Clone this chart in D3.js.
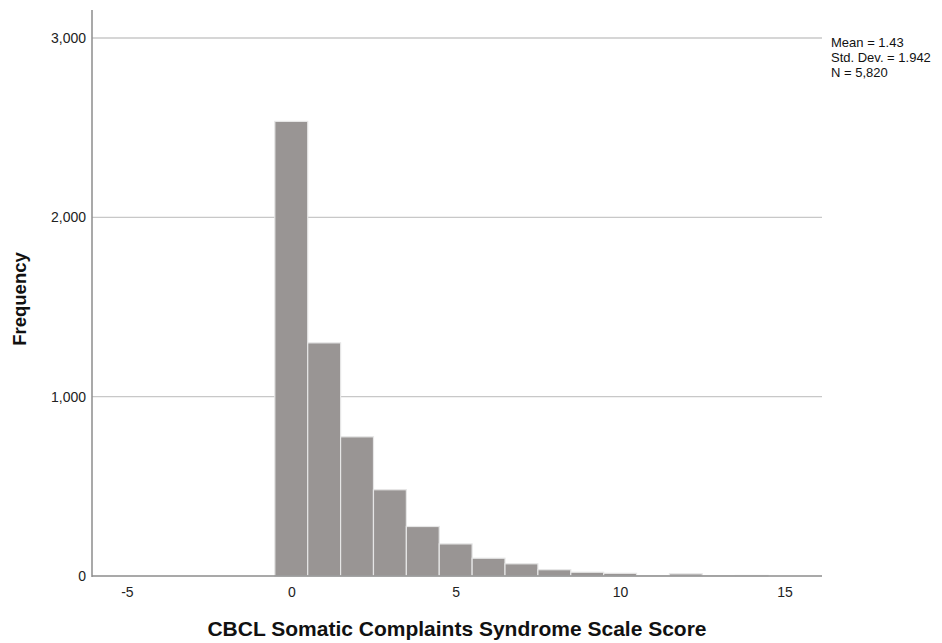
<!DOCTYPE html>
<html>
<head>
<meta charset="utf-8">
<script src="https://cdn.jsdelivr.net/npm/d3@7"></script>
<style>
  body { margin: 0; background: #fff; }
  svg text { font-family: "Liberation Sans", Arial, sans-serif; }
</style>
</head>
<body>
<svg id="chart" width="942" height="643"></svg>
<script>
// histogram bins (centre score) and counts
const binScores = [0, 1, 2, 3, 4, 5, 6, 7, 8, 9, 10, 11, 12, 13, 14];
const binCounts = [2535, 1300, 776, 481, 276, 179, 99, 68, 35, 21, 15, 2, 12, 1, 3];
const xTicks = [-5, 0, 5, 10, 15];
const yTicks = [0, 1000, 2000, 3000];
const statLines = ["Mean = 1.43", "Std. Dev. = 1.942", "N = 5,820"];

const svg = d3.select("#chart");
const plotL = 92, plotR = 822, plotT = 10, plotB = 576;

const x = d3.scaleLinear().domain([-6.06, 16.14]).range([plotL, plotR]);
const y = d3.scaleLinear().domain([0, 3000]).range([plotB, 38]);

// gridlines
svg.append("g")
  .selectAll("line")
  .data(yTicks.filter(d => d > 0))
  .join("line")
    .attr("x1", plotL).attr("x2", plotR)
    .attr("y1", d => y(d)).attr("y2", d => y(d))
    .attr("stroke", "#c8c8c8").attr("stroke-width", 1.3);

// bars
svg.append("g")
  .selectAll("rect")
  .data(binScores)
  .join("rect")
    .attr("x", (d) => x(d - 0.5))
    .attr("width", x(1) - x(0))
    .attr("y", (d, i) => y(binCounts[i]))
    .attr("height", (d, i) => plotB - y(binCounts[i]))
    .attr("fill", "#999594")
    .attr("stroke", "#e6e6e6")
    .attr("stroke-width", 1.2);

// axes (no tick marks, SPSS style)
const yAxis = d3.axisLeft(y).tickValues(yTicks).tickSize(0).tickPadding(6).tickFormat(d3.format(","));
const gy = svg.append("g").attr("transform", `translate(${plotL},0)`).call(yAxis);
gy.select(".domain").remove();
gy.selectAll("text").attr("font-size", 14).attr("fill", "#222");

const xAxis = d3.axisBottom(x).tickValues(xTicks).tickSize(0).tickPadding(11).tickFormat(d => String(d));
const gx = svg.append("g").attr("transform", `translate(0,${plotB})`).call(xAxis);
gx.select(".domain").remove();
gx.selectAll("text").attr("font-size", 14).attr("fill", "#222");

svg.append("line")
  .attr("x1", plotL).attr("x2", plotL).attr("y1", plotT).attr("y2", plotB + 1)
  .attr("stroke", "#8c8c8c").attr("stroke-width", 1.5);
svg.append("line")
  .attr("x1", plotL).attr("x2", plotR).attr("y1", plotB).attr("y2", plotB)
  .attr("stroke", "#8c8c8c").attr("stroke-width", 1.5);

// titles
svg.append("text")
  .attr("transform", `translate(26,${(plotT + plotB) / 2 + 6}) rotate(-90)`)
  .attr("text-anchor", "middle")
  .attr("font-size", 18.5).attr("font-weight", "bold").attr("fill", "#111")
  .text("Frequency");

svg.append("text")
  .attr("x", 457).attr("y", 636)
  .attr("text-anchor", "middle")
  .attr("font-size", 21).attr("font-weight", "bold").attr("fill", "#111")
  .text("CBCL Somatic Complaints Syndrome Scale Score");

// stats box
svg.append("g")
  .selectAll("text")
  .data(statLines)
  .join("text")
    .attr("x", 831).attr("y", (d, i) => 47 + i * 15)
    .attr("font-size", 13).attr("fill", "#111")
    .text(d => d);
</script>
</body>
</html>
